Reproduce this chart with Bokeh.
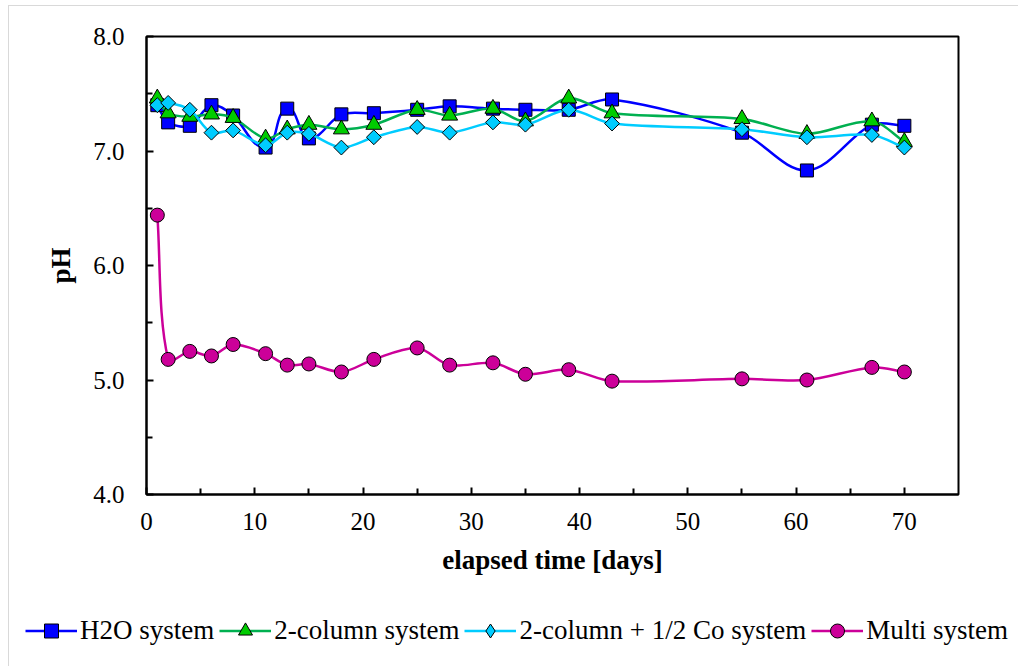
import numpy as np
from bokeh.plotting import figure
from bokeh.models import FixedTicker, Legend, LegendItem, PrintfTickFormatter, Range1d
from bokeh.embed import file_html
from bokeh.resources import INLINE

# ---- data ----
days = [1, 2, 4, 6, 8, 11, 13, 15, 18, 21, 25, 28, 32, 35, 39, 43, 55, 61, 67, 70]
h2o_system = [7.40, 7.25, 7.22, 7.40, 7.31, 7.03, 7.37, 7.11, 7.32, 7.33, 7.36,
              7.39, 7.37, 7.36, 7.36, 7.45, 7.16, 6.83, 7.23, 7.22]
two_column = [7.46, 7.33, 7.30, 7.32, 7.29, 7.11, 7.19, 7.23, 7.19, 7.23, 7.36,
              7.31, 7.37, 7.26, 7.46, 7.33, 7.28, 7.15, 7.26, 7.08]
two_column_co = [7.40, 7.42, 7.36, 7.16, 7.18, 7.05, 7.16, 7.15, 7.03, 7.12, 7.21,
                 7.16, 7.25, 7.23, 7.36, 7.24, 7.19, 7.12, 7.14, 7.03]
multi_system = [6.44, 5.18, 5.25, 5.21, 5.31, 5.23, 5.13, 5.14, 5.07, 5.18, 5.28,
                5.13, 5.15, 5.05, 5.09, 4.99, 5.01, 5.00, 5.11, 5.07]
labels = ["H2O system", "2-column system", "2-column + 1/2 Co system", "Multi system"]
x_ticks = [0, 10, 20, 30, 40, 50, 60, 70]
x_minor = [5, 15, 25, 35, 45, 55, 65]
y_ticks = [4, 5, 6, 7, 8]
y_minor = [4.5, 5.5, 6.5, 7.5]

FONT = "Liberation Serif"
X_MIN, X_MAX, Y_MIN, Y_MAX = 0, 75, 4, 8
FRAME_W, FRAME_H = 812, 458


def smooth_segments(xs, ys, k=0.3):
    """Smoothed line as Bezier segments; tangents are taken in screen-scaled
    space and sized by each segment's length (Excel-like smoothing)."""
    sx = FRAME_W / (X_MAX - X_MIN)
    sy = FRAME_H / (Y_MAX - Y_MIN)
    x = np.asarray(xs, float) * sx
    y = np.asarray(ys, float) * sy
    n = len(x)
    tx = np.empty(n)
    ty = np.empty(n)
    for i in range(n):
        a = max(i - 1, 0)
        b = min(i + 1, n - 1)
        dx, dy = x[b] - x[a], y[b] - y[a]
        L = np.hypot(dx, dy) or 1.0
        tx[i], ty[i] = dx / L, dy / L
    seg = np.hypot(np.diff(x), np.diff(y))
    cx0 = x[:-1] + tx[:-1] * seg * k
    cy0 = y[:-1] + ty[:-1] * seg * k
    cx1 = x[1:] - tx[1:] * seg * k
    cy1 = y[1:] - ty[1:] * seg * k
    return dict(x0=x[:-1] / sx, y0=y[:-1] / sy, x1=x[1:] / sx, y1=y[1:] / sy,
                cx0=cx0 / sx, cy0=cy0 / sy, cx1=cx1 / sx, cy1=cy1 / sy)


p = figure(frame_width=FRAME_W, frame_height=FRAME_H,
           x_range=Range1d(X_MIN, X_MAX), y_range=Range1d(Y_MIN, Y_MAX),
           output_backend="svg", toolbar_location=None,
           min_border_left=137, min_border_right=60, min_border_top=30,
           min_border_bottom=100)
p.styles = {"margin-left": "8px", "margin-top": "5px",
            "border-left": "1px solid #d9d9d9", "border-top": "1px solid #d9d9d9"}
p.background_fill_color = "white"
p.border_fill_color = "white"
p.outline_line_color = "black"
p.outline_line_width = 2
p.xgrid.visible = False
p.ygrid.visible = False

# legend strip below the chart (its viewport holds only the legend)
leg = figure(width=1009, height=72, output_backend="svg", toolbar_location=None,
             x_range=Range1d(100, 101), y_range=Range1d(100, 101),
             x_axis_type=None, y_axis_type=None, min_border=0)
leg.styles = {"margin-left": "8px", "border-left": "1px solid #d9d9d9"}
leg.outline_line_color = None
leg.xgrid.visible = False
leg.ygrid.visible = False
leg.background_fill_color = "white"
leg.border_fill_color = "white"

series = [
    (h2o_system, "#0000FF", "square", "#0000FF", 13, 0.0, "square"),
    (two_column, "#00B050", "triangle", "#00CC00", 16, 0.0, "triangle"),
    (two_column_co, "#00CCFF", "square", "#00CCFF", 10.5, np.pi / 4, "diamond"),
    (multi_system, "#CC0099", "circle", "#CC0099", 14, 0.0, "circle"),
]

items = []
for (vals, lcol, marker, fcol, size, ang, lmarker), lab in zip(series, labels):
    seg = smooth_segments(days, vals)
    p.bezier(line_color=lcol, line_width=2.5, source=seg)
    p.scatter(x=days, y=vals, marker=marker, size=size, angle=ang,
              fill_color=fcol, line_color="black", line_width=1)
    lr = leg.line(x=days, y=vals, line_color=lcol, line_width=2.5)
    ls = leg.scatter(x=days, y=vals, marker=lmarker, size=size,
                     fill_color=fcol, line_color="black", line_width=1)
    items.append(LegendItem(label=lab, renderers=[lr, ls]))

for ax in (p.xaxis[0], p.yaxis[0]):
    ax.axis_line_width = 2
    ax.axis_line_color = "black"
    ax.major_tick_in = 7
    ax.major_tick_out = 0
    ax.minor_tick_in = 6
    ax.minor_tick_out = 0
    ax.major_tick_line_width = 2
    ax.minor_tick_line_width = 2
    ax.major_label_text_font = FONT
    ax.major_label_text_font_size = "25px"
    ax.major_label_text_color = "black"
    ax.axis_label_text_font = FONT
    ax.axis_label_text_font_size = "27px"
    ax.axis_label_text_font_style = "bold"
    ax.axis_label_text_color = "black"

p.xaxis.ticker = FixedTicker(ticks=x_ticks, minor_ticks=x_minor)
p.yaxis.ticker = FixedTicker(ticks=y_ticks, minor_ticks=y_minor)
p.yaxis.formatter = PrintfTickFormatter(format="%.1f")
p.xaxis.axis_label = "elapsed time [days]"
p.yaxis.axis_label = "pH"
p.xaxis.major_label_standoff = 18
p.xaxis.axis_label_standoff = 12
p.yaxis.major_label_standoff = 22
p.yaxis.axis_label_standoff = 14

legend = Legend(items=items, orientation="horizontal", location=(16, 18),
                label_text_font=FONT, label_text_font_size="27px",
                label_text_color="black",
                glyph_width=52, glyph_height=35, label_standoff=3, spacing=5,
                padding=0, margin=0, border_line_alpha=0, background_fill_alpha=0)
leg.add_layout(legend, "center")

open("out.html", "w").write(file_html([p, leg], INLINE))
